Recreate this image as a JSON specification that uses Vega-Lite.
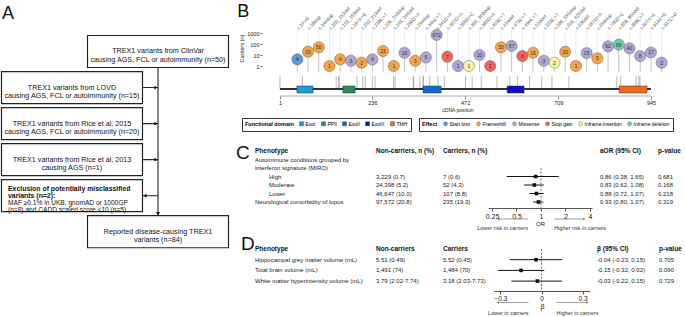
{
"$schema": "https://vega.github.io/schema/vega-lite/v6.json",
"padding": 0,
"background": "white",
"config": {"view": {"stroke": null}, "font": "Liberation Sans", "axis": {"grid": false}, "legend": {"layout": {"bottom": {"anchor": "middle"}}}},
"datasets": {
"boxes": [
{"step":"clinvar","col":"main","txt":"TREX1 variants from ClinVar\ncausing AGS, FCL or autoimmunity (n=50)"},
{"step":"lovd","col":"side","txt":"TREX1 variants from LOVD\ncausing AGS, FCL or autoimmunity (n=15)"},
{"step":"rice15","col":"side","txt":"TREX1 variants from Rice et al, 2015\ncausing AGS, FCL or autoimmunity (n=20)"},
{"step":"rice13","col":"side","txt":"TREX1 variants from Rice et al, 2013\ncausing AGS (n=1)"},
{"step":"excl","col":"side","bold":"Exclusion of potentially misclassified\nvariants (n=2):","reg":"MAF \u22650.1% in UKB, gnomAD or 1000GP\n(n=8) and CADD scaled score <10 (n=5)"},
{"step":"final","col":"main","txt":"Reported disease-causing TREX1\nvariants (n=84)"}
],
"variants": [
{"name":"c.1A>G","pos":1,"carriers":4,"effect":"Start loss"},
{"name":"c.58dup","pos":58,"carriers":20,"effect":"Frameshift"},
{"name":"c.144dup","pos":144,"carriers":50,"effect":"Frameshift"},
{"name":"c.150_151del","pos":150,"carriers":1,"effect":"Frameshift"},
{"name":"c.152_153del","pos":152,"carriers":4,"effect":"Frameshift"},
{"name":"c.197A>G","pos":197,"carriers":3,"effect":"Missense"},
{"name":"c.212_213del","pos":212,"carriers":2,"effect":"Frameshift"},
{"name":"c.218C>T","pos":218,"carriers":4,"effect":"Missense"},
{"name":"c.236_243dup","pos":236,"carriers":23,"effect":"Frameshift"},
{"name":"c.243_246del","pos":243,"carriers":1,"effect":"Frameshift"},
{"name":"c.290G>A","pos":290,"carriers":16,"effect":"Missense"},
{"name":"c.294dup","pos":294,"carriers":3,"effect":"Frameshift"},
{"name":"c.340C>T","pos":340,"carriers":6,"effect":"Missense"},
{"name":"c.341G>A","pos":341,"carriers":672,"effect":"Missense"},
{"name":"c.357G>A","pos":357,"carriers":7,"effect":"Stop gain"},
{"name":"c.365G>C","pos":365,"carriers":1,"effect":"Missense"},
{"name":"c.366_368dup","pos":366,"carriers":1,"effect":"Inframe insertion"},
{"name":"c.382G>A","pos":382,"carriers":10,"effect":"Missense"},
{"name":"c.403C>T","pos":403,"carriers":1,"effect":"Stop gain"},
{"name":"c.419del","pos":419,"carriers":50,"effect":"Frameshift"},
{"name":"c.473C>T","pos":473,"carriers":67,"effect":"Missense"},
{"name":"c.490C>T","pos":490,"carriers":8,"effect":"Stop gain"},
{"name":"c.513del","pos":513,"carriers":16,"effect":"Frameshift"},
{"name":"c.553C>T","pos":553,"carriers":3,"effect":"Missense"},
{"name":"c.586_591dup","pos":586,"carriers":2,"effect":"Inframe insertion"},
{"name":"c.605_626del","pos":605,"carriers":20,"effect":"Frameshift"},
{"name":"c.636del","pos":636,"carriers":1,"effect":"Frameshift"},
{"name":"c.667G>A","pos":667,"carriers":15,"effect":"Missense"},
{"name":"c.693dup","pos":693,"carriers":5,"effect":"Frameshift"},
{"name":"c.736G>C","pos":736,"carriers":62,"effect":"Missense"},
{"name":"c.858_860del","pos":858,"carriers":89,"effect":"Inframe deletion"},
{"name":"c.868C>T","pos":868,"carriers":40,"effect":"Missense"},
{"name":"c.907A>C","pos":907,"carriers":8,"effect":"Missense"},
{"name":"c.914A>G","pos":914,"carriers":17,"effect":"Missense"},
{"name":"c.917C>G","pos":917,"carriers":2,"effect":"Missense"}
],
"domains": [
{"domain":"ExoI","start":44,"end":85},
{"domain":"PPII","start":161,"end":192},
{"domain":"ExoII","start":365,"end":411},
{"domain":"ExoIII","start":579,"end":622},
{"domain":"TMH","start":864,"end":935}
],
"ctab": [
{"row":"hdr","level":-1,"pheno":"Phenotype","non":"Non-carriers, n (%)","car":"Carriers, n (%)","est":"aOR (95% CI)","p":"p-value"},
{"row":"auto1","level":0,"pheno":"Autoimmune conditions grouped by"},
{"row":"auto2","level":0,"pheno":"interferon signature (MIRO)"},
{"row":"High","level":1,"pheno":"High","non":"3,229 (0.7)","car":"7 (0.6)","or":0.86,"lo":0.38,"hi":1.65,"est":"0.86 (0.38, 1.65)","p":"0.681"},
{"row":"Moderate","level":1,"pheno":"Moderate","non":"24,398 (5.2)","car":"52 (4.3)","or":0.83,"lo":0.62,"hi":1.08,"est":"0.83 (0.62, 1.08)","p":"0.168"},
{"row":"Lower","level":1,"pheno":"Lower","non":"46,647 (10.0)","car":"107 (8.8)","or":0.88,"lo":0.72,"hi":1.07,"est":"0.88 (0.72, 1.07)","p":"0.218"},
{"row":"Neuro","level":0,"pheno":"Neurological comorbidity of lupus","non":"97,572 (20.8)","car":"235 (19.3)","or":0.93,"lo":0.80,"hi":1.07,"est":"0.93 (0.80, 1.07)","p":"0.319"}
],
"dtab": [
{"row":"hdr","level":-1,"pheno":"Phenotype","non":"Non-carriers","car":"Carriers","est":"\u03b2 (95% CI)","p":"p-value"},
{"row":"hip","level":0,"pheno":"Hippocampal grey matter volume (mL)","non":"5.51 (0.49)","car":"5.52 (0.45)","b":-0.04,"lo":-0.23,"hi":0.15,"est":"-0.04 (-0.23, 0.15)","p":"0.705"},
{"row":"tbv","level":0,"pheno":"Total brain volume (mL)","non":"1,491 (74)","car":"1,484 (70)","b":-0.15,"lo":-0.32,"hi":0.02,"est":"-0.15 (-0.32, 0.02)","p":"0.090"},
{"row":"wmh","level":0,"pheno":"White matter hyperintensity volume (mL)","non":"3.79 (2.02-7.74)","car":"3.18 (2.03-7.73)","b":-0.03,"lo":-0.22,"hi":0.15,"est":"-0.03 (-0.22, 0.15)","p":"0.729"}
],
"carrows": [
{"kind":"lower","dir":"Lower risk in carriers","from":0.69,"to":0.3},
{"kind":"higher","dir":"Higher risk in carriers","from":1.45,"to":3.4}
],
"darrows": [
{"kind":"lower","dir":"Lower in carriers","from":-0.095,"to":-0.32},
{"kind":"higher","dir":"Higher in carriers","from":0.11,"to":0.336}
]
},
"bounds": "flush",
"spacing": 0,
"resolve": {"scale": {"fill": "independent"}, "legend": {"fill": "independent"}},
"hconcat": [
{
"width": 230, "height": 250,
"data": {"name": "boxes"},
"layer": [
{"data": {"values": [{}]}, "mark": {"type": "rule", "color": "#222", "strokeWidth": 1.1},
 "encoding": {"x": {"datum": "main", "type": "nominal", "scale": {"type": "point", "domain": ["side", "main"], "padding": 0.837}, "axis": null},
  "y": {"datum": "clinvar", "type": "nominal", "scale": {"type": "band", "domain": ["clinvar", "lovd", "rice15", "rice13", "excl", "final"], "paddingInner": 0.112, "paddingOuter": 0.5235, "align": 0.94}, "axis": null},
  "y2": {"datum": "final"}}},
{"transform": [{"filter": "datum.col === 'side'"}], "mark": {"type": "rule", "color": "#222", "strokeWidth": 1.1},
 "encoding": {"x": {"datum": "side", "type": "nominal"}, "x2": {"datum": "main"}, "y": {"field": "step", "type": "nominal"}}},
{"mark": {"type": "rect", "width": 141, "fill": "white", "stroke": "#222", "strokeWidth": 1.2},
 "encoding": {"x": {"field": "col", "type": "nominal"}, "y": {"field": "step", "type": "nominal"}}},
{"transform": [{"filter": "datum.step !== 'excl'"}], "mark": {"type": "text", "fontSize": 7.2, "lineHeight": 8.5, "lineBreak": "\n", "align": "center", "baseline": "middle", "color": "#111"},
 "encoding": {"x": {"field": "col", "type": "nominal"}, "y": {"field": "step", "type": "nominal"}, "text": {"field": "txt"}}},
{"transform": [{"filter": "datum.step === 'excl'"}], "mark": {"type": "text", "fontSize": 6.9, "lineHeight": 7, "lineBreak": "\n", "align": "left", "baseline": "middle", "fontWeight": "bold", "dx": -64, "dy": -7, "color": "#111"},
 "encoding": {"x": {"field": "col", "type": "nominal"}, "y": {"field": "step", "type": "nominal"}, "text": {"field": "bold"}}},
{"transform": [{"filter": "datum.step === 'excl'"}], "mark": {"type": "text", "fontSize": 6.6, "lineHeight": 7, "lineBreak": "\n", "align": "left", "baseline": "middle", "dx": -64, "dy": 7.2, "color": "#111"},
 "encoding": {"x": {"field": "col", "type": "nominal"}, "y": {"field": "step", "type": "nominal"}, "text": {"field": "reg"}}},
{"transform": [{"filter": "datum.col === 'side' && datum.step !== 'excl'"}], "mark": {"type": "point", "shape": "triangle-right", "filled": true, "size": 14, "color": "#111", "opacity": 1, "xOffset": -2},
 "encoding": {"x": {"datum": "main", "type": "nominal"}, "y": {"field": "step", "type": "nominal"}}},
{"transform": [{"filter": "datum.step === 'excl'"}], "mark": {"type": "point", "shape": "triangle-left", "filled": true, "size": 14, "color": "#111", "opacity": 1, "xOffset": 73},
 "encoding": {"x": {"datum": "side", "type": "nominal"}, "y": {"field": "step", "type": "nominal"}}},
{"data": {"values": [{}]}, "mark": {"type": "point", "shape": "triangle-down", "filled": true, "size": 16, "color": "#111", "opacity": 1, "yOffset": -18},
 "encoding": {"x": {"datum": "main", "type": "nominal"}, "y": {"datum": "final", "type": "nominal"}}},
{"data": {"values": [{}]}, "mark": {"type": "text", "fontSize": 18, "align": "left", "baseline": "alphabetic", "dx": -70, "dy": -32, "color": "#111"},
 "encoding": {"x": {"datum": "side", "type": "nominal"}, "y": {"datum": "clinvar", "type": "nominal"}, "text": {"value": "A"}}}
]
},
{
"vconcat": [
{
"width": 455, "height": 96,
"resolve": {"scale": {"x": "independent", "fill": "independent"}},
"layer": [
{
"layer": [
{"data": {"name": "variants"}, "mark": {"type": "rule", "color": "#8c8c8c", "strokeWidth": 0.6},
 "encoding": {"x": {"field": "pos", "type": "quantitative", "scale": {"type": "linear", "domain": [-126.2, 1031.5], "nice": false, "zero": false},
   "axis": {"values": [1, 236, 472, 709, 945], "format": "d", "title": "cDNA position", "titleFontSize": 5, "titleFontWeight": "normal", "labelFontSize": 5.5, "tickSize": 3, "domain": false, "labelPadding": 1, "titlePadding": 2, "tickColor": "#888", "labelColor": "#222", "titleColor": "#222"}},
  "y": {"datum": 0.00812, "type": "quantitative", "scale": {"type": "log", "domain": [0.001874, 1000000], "nice": false},
   "axis": {"values": [1, 10, 100, 1000], "format": "d", "title": "Carriers (n)", "titleFontSize": 5.5, "titleFontWeight": "normal", "labelFontSize": 5.5, "tickSize": 2, "domain": false, "offset": -32, "labelPadding": 1, "titlePadding": 2, "tickColor": "#666", "labelColor": "#222", "titleColor": "#222"}},
  "y2": {"datum": 0.13}}},
{"data": {"values": [{}]}, "mark": {"type": "rule", "color": "#999", "strokeWidth": 0.8},
 "encoding": {"x": {"datum": 1, "type": "quantitative"}, "x2": {"datum": 945}, "y": {"datum": 0.001874, "type": "quantitative"}}},
{"data": {"values": [{}]}, "mark": {"type": "rule", "color": "#333", "strokeWidth": 2.2},
 "encoding": {"x": {"datum": 1, "type": "quantitative"}, "x2": {"datum": 945}, "y": {"datum": 0.00812, "type": "quantitative"}}},
{"data": {"values": [{}]}, "mark": {"type": "text", "fontSize": 18, "align": "left", "baseline": "alphabetic", "color": "#111"},
 "encoding": {"x": {"datum": -108, "type": "quantitative"}, "y": {"datum": 28480, "type": "quantitative"}, "text": {"value": "B"}}},
{"data": {"name": "domains"}, "mark": {"type": "rect", "stroke": "#333", "strokeWidth": 0.5},
 "encoding": {"x": {"field": "start", "type": "quantitative", "title": "cDNA position"}, "x2": {"field": "end"},
  "y": {"datum": 0.0152, "type": "quantitative"}, "y2": {"datum": 0.00351},
  "fill": {"field": "domain", "type": "nominal", "scale": {"domain": ["ExoI", "PPII", "ExoII", "ExoIII", "TMH"], "range": ["#1f9ad6", "#2e8b57", "#1268cc", "#1010c0", "#f26a1b"]},
   "legend": {"title": "Functional domain", "orient": "bottom", "direction": "horizontal", "titleOrient": "left", "titleFontSize": 5.5, "titleFontWeight": "bold", "labelFontSize": 5, "symbolSize": 16, "symbolType": "square", "symbolStrokeColor": "#333", "symbolStrokeWidth": 0.4, "columnPadding": 4, "labelOffset": 1.5, "padding": 3, "strokeColor": "#333", "offset": 5, "titlePadding": 5}}}}
]
},
{
"data": {"name": "variants"},
"layer": [
{"mark": {"type": "rule", "color": "#dadada", "strokeWidth": 0.5},
 "encoding": {"x": {"field": "name", "type": "nominal", "sort": null, "scale": {"type": "point", "range": [62, 437]}, "axis": null},
  "y": {"field": "carriers", "type": "quantitative", "title": "Carriers (n)"}, "y2": {"datum": 1800}}},
{"mark": {"type": "rule", "color": "#999", "strokeWidth": 0.6},
 "encoding": {"x": {"field": "name", "type": "nominal", "sort": null}, "y": {"field": "carriers", "type": "quantitative", "title": "Carriers (n)"}, "y2": {"datum": 0.3}}},
{"mark": {"type": "point", "filled": true, "size": 125, "stroke": "#666", "strokeWidth": 0.5, "opacity": 1},
 "encoding": {"x": {"field": "name", "type": "nominal", "sort": null}, "y": {"field": "carriers", "type": "quantitative", "title": "Carriers (n)"},
  "fill": {"field": "effect", "type": "nominal", "scale": {"domain": ["Start loss", "Frameshift", "Missense", "Stop gain", "Inframe insertion", "Inframe deletion"], "range": ["#5b9bd5", "#f5a347", "#aaa6d8", "#f0625c", "#f6f3a6", "#6dcbb5"]},
   "legend": {"title": "Effect", "orient": "bottom", "direction": "horizontal", "titleOrient": "left", "titleFontSize": 5.5, "titleFontWeight": "bold", "labelFontSize": 5, "symbolSize": 16, "symbolType": "circle", "symbolStrokeColor": "#555", "symbolStrokeWidth": 0.4, "columnPadding": 4, "labelOffset": 1.5, "padding": 3, "strokeColor": "#333", "offset": 5, "titlePadding": 5}}}},
{"mark": {"type": "text", "fontSize": 5, "color": "#333"},
 "encoding": {"x": {"field": "name", "type": "nominal", "sort": null}, "y": {"field": "carriers", "type": "quantitative", "title": "Carriers (n)"}, "text": {"field": "carriers", "type": "quantitative", "format": "d"}}},
{"mark": {"type": "text", "fontSize": 4.8, "angle": -48, "align": "left", "baseline": "middle", "color": "#555", "dx": 1},
 "encoding": {"x": {"field": "name", "type": "nominal", "sort": null}, "y": {"datum": 1800, "type": "quantitative"}, "text": {"field": "name"}}}
]
}
]
},
{
"vconcat": [
{
"hconcat": [
{"width": 146, "height": 91, "data": {"name": "ctab"},
 "layer": [
  {"transform": [{"filter": "datum.level === -1"}], "mark": {"type": "text", "align": "left", "baseline": "middle", "fontSize": 6.5, "fontWeight": "bold", "dx": 25, "color": "#111"},
   "encoding": {"x": {"datum": 0, "type": "quantitative", "scale": {"domain": [0, 1]}, "axis": null}, "y": {"field": "row", "type": "nominal", "scale": {"type": "point", "domain": ["hdr", "auto1", "auto2", "High", "Moderate", "Lower", "Neuro", "axis", "arrow", "label"], "padding": 0.853, "align": 0.69}, "axis": null}, "text": {"field": "pheno"}}},
  {"transform": [{"filter": "datum.level === 0"}], "mark": {"type": "text", "align": "left", "baseline": "middle", "fontSize": 6, "dx": 25, "color": "#222"},
   "encoding": {"x": {"datum": 0, "type": "quantitative"}, "y": {"field": "row", "type": "nominal"}, "text": {"field": "pheno"}}},
  {"transform": [{"filter": "datum.level === 1"}], "mark": {"type": "text", "align": "left", "baseline": "middle", "fontSize": 6, "dx": 39, "color": "#222"},
   "encoding": {"x": {"datum": 0, "type": "quantitative"}, "y": {"field": "row", "type": "nominal"}, "text": {"field": "pheno"}}},
  {"transform": [{"filter": "datum.level === -1"}], "mark": {"type": "text", "align": "left", "baseline": "middle", "fontSize": 19, "dx": 6, "dy": 2, "color": "#111"},
   "encoding": {"x": {"datum": 0, "type": "quantitative"}, "y": {"field": "row", "type": "nominal"}, "text": {"value": "C"}}}
 ]},
{"width": 67, "height": 91, "data": {"name": "ctab"},
 "layer": [
  {"transform": [{"filter": "datum.level === -1"}], "mark": {"type": "text", "align": "left", "baseline": "middle", "fontSize": 6.5, "fontWeight": "bold", "color": "#111"},
   "encoding": {"x": {"datum": 0, "type": "quantitative", "scale": {"domain": [0, 1]}, "axis": null}, "y": {"field": "row", "type": "nominal", "scale": {"type": "point", "domain": ["hdr", "auto1", "auto2", "High", "Moderate", "Lower", "Neuro", "axis", "arrow", "label"], "padding": 0.853, "align": 0.69}, "axis": null}, "text": {"field": "non"}}},
  {"transform": [{"filter": "datum.level >= 0 && isValid(datum.non)"}], "mark": {"type": "text", "align": "left", "baseline": "middle", "fontSize": 6, "color": "#222"},
   "encoding": {"x": {"datum": 0, "type": "quantitative"}, "y": {"field": "row", "type": "nominal"}, "text": {"field": "non"}}}
 ]},
{"width": 45, "height": 91, "data": {"name": "ctab"},
 "layer": [
  {"transform": [{"filter": "datum.level === -1"}], "mark": {"type": "text", "align": "left", "baseline": "middle", "fontSize": 6.5, "fontWeight": "bold", "color": "#111"},
   "encoding": {"x": {"datum": 0, "type": "quantitative", "scale": {"domain": [0, 1]}, "axis": null}, "y": {"field": "row", "type": "nominal", "scale": {"type": "point", "domain": ["hdr", "auto1", "auto2", "High", "Moderate", "Lower", "Neuro", "axis", "arrow", "label"], "padding": 0.853, "align": 0.69}, "axis": null}, "text": {"field": "car"}}},
  {"transform": [{"filter": "datum.level >= 0 && isValid(datum.car)"}], "mark": {"type": "text", "align": "left", "baseline": "middle", "fontSize": 6, "color": "#222"},
   "encoding": {"x": {"datum": 0, "type": "quantitative"}, "y": {"field": "row", "type": "nominal"}, "text": {"field": "car"}}}
 ]},
{"width": 104, "height": 91,
 "layer": [
  {"data": {"values": [{}]}, "mark": {"type": "rule", "strokeDash": [2, 1.5], "color": "#555", "strokeWidth": 0.8},
   "encoding": {"x": {"datum": 1, "type": "quantitative", "scale": {"type": "log", "base": 2, "domain": [0.2233, 4.233], "nice": false},
     "axis": {"values": [0.25, 0.5, 1, 2, 4], "format": "~g", "title": "OR", "offset": -24, "titleFontSize": 6, "titleFontWeight": "normal", "titlePadding": 1, "labelFontSize": 7, "labelPadding": 1, "labelOverlap": false, "tickSize": 3, "domainColor": "#555", "tickColor": "#555", "labelColor": "#222", "titleColor": "#222", "labelFlush": false}},
    "y": {"datum": "auto2", "type": "nominal", "scale": {"type": "point", "domain": ["hdr", "auto1", "auto2", "High", "Moderate", "Lower", "Neuro", "axis", "arrow", "label"], "padding": 0.853, "align": 0.69}, "axis": null},
    "y2": {"datum": "axis"}}},
  {"data": {"name": "ctab"}, "transform": [{"filter": "isValid(datum.or)"}], "mark": {"type": "rule", "color": "#111", "strokeWidth": 1},
   "encoding": {"x": {"field": "lo", "type": "quantitative", "title": "OR"}, "x2": {"field": "hi"}, "y": {"field": "row", "type": "nominal"}}},
  {"data": {"name": "ctab"}, "transform": [{"filter": "isValid(datum.or)"}], "mark": {"type": "point", "shape": "square", "filled": true, "size": 13, "color": "#111", "opacity": 1},
   "encoding": {"x": {"field": "or", "type": "quantitative", "title": "OR"}, "y": {"field": "row", "type": "nominal"}}},
  {"data": {"name": "carrows"}, "mark": {"type": "rule", "color": "#777", "strokeWidth": 0.7},
   "encoding": {"x": {"field": "from", "type": "quantitative", "title": "OR"}, "x2": {"field": "to"}, "y": {"datum": "arrow", "type": "nominal"}}},
  {"data": {"name": "carrows"}, "transform": [{"filter": "datum.kind === 'lower'"}], "mark": {"type": "point", "shape": "triangle-left", "filled": true, "size": 7, "color": "#777", "opacity": 1},
   "encoding": {"x": {"field": "to", "type": "quantitative", "title": "OR"}, "y": {"datum": "arrow", "type": "nominal"}}},
  {"data": {"name": "carrows"}, "transform": [{"filter": "datum.kind === 'higher'"}], "mark": {"type": "point", "shape": "triangle-right", "filled": true, "size": 7, "color": "#777", "opacity": 1},
   "encoding": {"x": {"field": "to", "type": "quantitative", "title": "OR"}, "y": {"datum": "arrow", "type": "nominal"}}},
  {"data": {"name": "carrows"}, "transform": [{"filter": "datum.kind === 'lower'"}], "mark": {"type": "text", "align": "right", "baseline": "middle", "fontSize": 5.5, "color": "#333"},
   "encoding": {"x": {"field": "from", "type": "quantitative", "title": "OR"}, "y": {"datum": "label", "type": "nominal"}, "text": {"field": "dir"}}},
  {"data": {"name": "carrows"}, "transform": [{"filter": "datum.kind === 'higher'"}], "mark": {"type": "text", "align": "left", "baseline": "middle", "fontSize": 5.5, "color": "#333"},
   "encoding": {"x": {"field": "from", "type": "quantitative", "title": "OR"}, "y": {"datum": "label", "type": "nominal"}, "text": {"field": "dir"}}}
 ]},
{"width": 65, "height": 91, "data": {"name": "ctab"},
 "layer": [
  {"transform": [{"filter": "datum.level === -1"}], "mark": {"type": "text", "align": "left", "baseline": "middle", "fontSize": 6.5, "fontWeight": "bold", "dx": 8, "color": "#111"},
   "encoding": {"x": {"datum": 0, "type": "quantitative", "scale": {"domain": [0, 1]}, "axis": null}, "y": {"field": "row", "type": "nominal", "scale": {"type": "point", "domain": ["hdr", "auto1", "auto2", "High", "Moderate", "Lower", "Neuro", "axis", "arrow", "label"], "padding": 0.853, "align": 0.69}, "axis": null}, "text": {"field": "est"}}},
  {"transform": [{"filter": "datum.level >= 0 && isValid(datum.est)"}], "mark": {"type": "text", "align": "left", "baseline": "middle", "fontSize": 6, "dx": 8, "color": "#222"},
   "encoding": {"x": {"datum": 0, "type": "quantitative"}, "y": {"field": "row", "type": "nominal"}, "text": {"field": "est"}}}
 ]},
{"width": 28, "height": 91, "data": {"name": "ctab"},
 "layer": [
  {"transform": [{"filter": "datum.level === -1"}], "mark": {"type": "text", "align": "left", "baseline": "middle", "fontSize": 6.5, "fontWeight": "bold", "dx": 1, "color": "#111"},
   "encoding": {"x": {"datum": 0, "type": "quantitative", "scale": {"domain": [0, 1]}, "axis": null}, "y": {"field": "row", "type": "nominal", "scale": {"type": "point", "domain": ["hdr", "auto1", "auto2", "High", "Moderate", "Lower", "Neuro", "axis", "arrow", "label"], "padding": 0.853, "align": 0.69}, "axis": null}, "text": {"field": "p"}}},
  {"transform": [{"filter": "datum.level >= 0 && isValid(datum.p)"}], "mark": {"type": "text", "align": "left", "baseline": "middle", "fontSize": 6, "dx": 1, "color": "#222"},
   "encoding": {"x": {"datum": 0, "type": "quantitative"}, "y": {"field": "row", "type": "nominal"}, "text": {"field": "p"}}}
 ]}
],
"spacing": 0, "bounds": "flush"
},
{
"hconcat": [
{"width": 146, "height": 77, "data": {"name": "dtab"},
 "layer": [
  {"transform": [{"filter": "datum.level === -1"}], "mark": {"type": "text", "align": "left", "baseline": "middle", "fontSize": 6.5, "fontWeight": "bold", "dx": 25, "color": "#111"},
   "encoding": {"x": {"datum": 0, "type": "quantitative", "scale": {"domain": [0, 1]}, "axis": null}, "y": {"field": "row", "type": "nominal", "scale": {"type": "point", "domain": ["hdr", "hip", "tbv", "wmh", "axis", "arrow", "label"], "padding": 0.598, "align": 0.703}, "axis": null}, "text": {"field": "pheno"}}},
  {"transform": [{"filter": "datum.level === 0"}], "mark": {"type": "text", "align": "left", "baseline": "middle", "fontSize": 6, "dx": 25, "color": "#222"},
   "encoding": {"x": {"datum": 0, "type": "quantitative"}, "y": {"field": "row", "type": "nominal"}, "text": {"field": "pheno"}}},
  {"transform": [{"filter": "datum.level === -1"}], "mark": {"type": "text", "align": "left", "baseline": "middle", "fontSize": 19, "dx": 11, "dy": -5, "color": "#111"},
   "encoding": {"x": {"datum": 0, "type": "quantitative"}, "y": {"field": "row", "type": "nominal"}, "text": {"value": "D"}}}
 ]},
{"width": 67, "height": 77, "data": {"name": "dtab"},
 "layer": [
  {"transform": [{"filter": "datum.level === -1"}], "mark": {"type": "text", "align": "left", "baseline": "middle", "fontSize": 6.5, "fontWeight": "bold", "color": "#111"},
   "encoding": {"x": {"datum": 0, "type": "quantitative", "scale": {"domain": [0, 1]}, "axis": null}, "y": {"field": "row", "type": "nominal", "scale": {"type": "point", "domain": ["hdr", "hip", "tbv", "wmh", "axis", "arrow", "label"], "padding": 0.598, "align": 0.703}, "axis": null}, "text": {"field": "non"}}},
  {"transform": [{"filter": "datum.level >= 0"}], "mark": {"type": "text", "align": "left", "baseline": "middle", "fontSize": 6, "color": "#222"},
   "encoding": {"x": {"datum": 0, "type": "quantitative"}, "y": {"field": "row", "type": "nominal"}, "text": {"field": "non"}}}
 ]},
{"width": 51, "height": 77, "data": {"name": "dtab"},
 "layer": [
  {"transform": [{"filter": "datum.level === -1"}], "mark": {"type": "text", "align": "left", "baseline": "middle", "fontSize": 6.5, "fontWeight": "bold", "color": "#111"},
   "encoding": {"x": {"datum": 0, "type": "quantitative", "scale": {"domain": [0, 1]}, "axis": null}, "y": {"field": "row", "type": "nominal", "scale": {"type": "point", "domain": ["hdr", "hip", "tbv", "wmh", "axis", "arrow", "label"], "padding": 0.598, "align": 0.703}, "axis": null}, "text": {"field": "car"}}},
  {"transform": [{"filter": "datum.level >= 0"}], "mark": {"type": "text", "align": "left", "baseline": "middle", "fontSize": 6, "color": "#222"},
   "encoding": {"x": {"datum": 0, "type": "quantitative"}, "y": {"field": "row", "type": "nominal"}, "text": {"field": "car"}}}
 ]},
{"width": 96, "height": 77,
 "layer": [
  {"data": {"values": [{}]}, "mark": {"type": "rule", "strokeDash": [2, 1.5], "color": "#555", "strokeWidth": 0.8},
   "encoding": {"x": {"datum": 0, "type": "quantitative", "scale": {"type": "linear", "domain": [-0.3475, 0.3548], "nice": false, "zero": false},
     "axis": {"values": [-0.3, -0.15, 0, 0.15, 0.3], "format": ".2~f", "title": "\u03b2", "offset": -26, "titleFontSize": 7, "titleFontWeight": "normal", "titlePadding": 1, "labelFontSize": 6.5, "labelPadding": 1, "labelOverlap": false, "tickSize": 3, "domainColor": "#555", "tickColor": "#555", "labelColor": "#222", "titleColor": "#222", "labelFlush": false}},
    "y": {"datum": "hdr", "type": "nominal", "scale": {"type": "point", "domain": ["hdr", "hip", "tbv", "wmh", "axis", "arrow", "label"], "padding": 0.598, "align": 0.703}, "axis": null},
    "y2": {"datum": "axis"}}},
  {"data": {"name": "dtab"}, "transform": [{"filter": "isValid(datum.b)"}], "mark": {"type": "rule", "color": "#111", "strokeWidth": 1},
   "encoding": {"x": {"field": "lo", "type": "quantitative", "title": "\u03b2"}, "x2": {"field": "hi"}, "y": {"field": "row", "type": "nominal"}}},
  {"data": {"name": "dtab"}, "transform": [{"filter": "isValid(datum.b)"}], "mark": {"type": "point", "shape": "square", "filled": true, "size": 13, "color": "#111", "opacity": 1},
   "encoding": {"x": {"field": "b", "type": "quantitative", "title": "\u03b2"}, "y": {"field": "row", "type": "nominal"}}},
  {"data": {"name": "darrows"}, "mark": {"type": "rule", "color": "#777", "strokeWidth": 0.7},
   "encoding": {"x": {"field": "from", "type": "quantitative", "title": "\u03b2"}, "x2": {"field": "to"}, "y": {"datum": "arrow", "type": "nominal"}}},
  {"data": {"name": "darrows"}, "transform": [{"filter": "datum.kind === 'lower'"}], "mark": {"type": "point", "shape": "triangle-left", "filled": true, "size": 7, "color": "#777", "opacity": 1},
   "encoding": {"x": {"field": "to", "type": "quantitative", "title": "\u03b2"}, "y": {"datum": "arrow", "type": "nominal"}}},
  {"data": {"name": "darrows"}, "transform": [{"filter": "datum.kind === 'higher'"}], "mark": {"type": "point", "shape": "triangle-right", "filled": true, "size": 7, "color": "#777", "opacity": 1},
   "encoding": {"x": {"field": "to", "type": "quantitative", "title": "\u03b2"}, "y": {"datum": "arrow", "type": "nominal"}}},
  {"data": {"name": "darrows"}, "transform": [{"filter": "datum.kind === 'lower'"}], "mark": {"type": "text", "align": "right", "baseline": "middle", "fontSize": 5.5, "color": "#333"},
   "encoding": {"x": {"field": "from", "type": "quantitative", "title": "\u03b2"}, "y": {"datum": "label", "type": "nominal"}, "text": {"field": "dir"}}},
  {"data": {"name": "darrows"}, "transform": [{"filter": "datum.kind === 'higher'"}], "mark": {"type": "text", "align": "left", "baseline": "middle", "fontSize": 5.5, "color": "#333"},
   "encoding": {"x": {"field": "from", "type": "quantitative", "title": "\u03b2"}, "y": {"datum": "label", "type": "nominal"}, "text": {"field": "dir"}}}
 ]},
{"width": 68, "height": 77, "data": {"name": "dtab"},
 "layer": [
  {"transform": [{"filter": "datum.level === -1"}], "mark": {"type": "text", "align": "left", "baseline": "middle", "fontSize": 6.5, "fontWeight": "bold", "dx": 7, "color": "#111"},
   "encoding": {"x": {"datum": 0, "type": "quantitative", "scale": {"domain": [0, 1]}, "axis": null}, "y": {"field": "row", "type": "nominal", "scale": {"type": "point", "domain": ["hdr", "hip", "tbv", "wmh", "axis", "arrow", "label"], "padding": 0.598, "align": 0.703}, "axis": null}, "text": {"field": "est"}}},
  {"transform": [{"filter": "datum.level >= 0"}], "mark": {"type": "text", "align": "left", "baseline": "middle", "fontSize": 6, "dx": 7, "color": "#222"},
   "encoding": {"x": {"datum": 0, "type": "quantitative"}, "y": {"field": "row", "type": "nominal"}, "text": {"field": "est"}}}
 ]},
{"width": 27, "height": 77, "data": {"name": "dtab"},
 "layer": [
  {"transform": [{"filter": "datum.level === -1"}], "mark": {"type": "text", "align": "left", "baseline": "middle", "fontSize": 6.5, "fontWeight": "bold", "dx": 1, "color": "#111"},
   "encoding": {"x": {"datum": 0, "type": "quantitative", "scale": {"domain": [0, 1]}, "axis": null}, "y": {"field": "row", "type": "nominal", "scale": {"type": "point", "domain": ["hdr", "hip", "tbv", "wmh", "axis", "arrow", "label"], "padding": 0.598, "align": 0.703}, "axis": null}, "text": {"field": "p"}}},
  {"transform": [{"filter": "datum.level >= 0"}], "mark": {"type": "text", "align": "left", "baseline": "middle", "fontSize": 6, "dx": 1, "color": "#222"},
   "encoding": {"x": {"datum": 0, "type": "quantitative"}, "y": {"field": "row", "type": "nominal"}, "text": {"field": "p"}}}
 ]}
],
"spacing": 0, "bounds": "flush"
}
],
"spacing": 2, "bounds": "full"
}
],
"spacing": 45, "bounds": "flush",
"resolve": {"scale": {"fill": "independent"}, "legend": {"fill": "independent"}}
}
]
}
